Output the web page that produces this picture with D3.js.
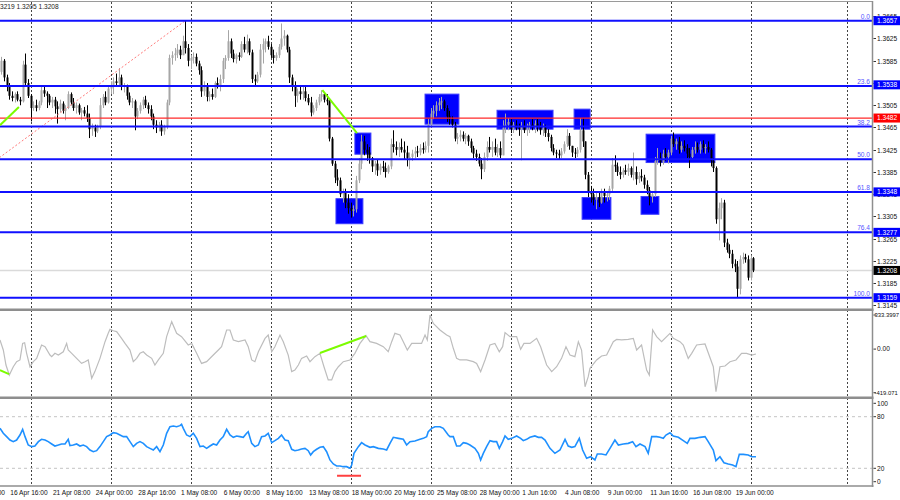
<!DOCTYPE html>
<html>
<head>
<meta charset="utf-8">
<script src="https://cdn.jsdelivr.net/npm/d3@7"></script>
<style>
  body { margin: 0; background: #fff; }
  svg { display: block; font-family: "Liberation Sans", Arial, sans-serif; }
</style>
</head>
<body>
<svg id="chart" width="900" height="500"></svg>
<script>
// H4 candles, prices in points above 1.3000 (585 -> 1.3585)
const base = 1.3;
const firstOpen = 565;
const high = [592,588,560,545,530,528,530,520,585,598,552,525,512,515,513,540,540,530,525,520,
  520,512,515,512,505,530,528,518,510,508,500,502,505,490,472,470,470,518,525,530,
  540,548,555,562,572,560,545,542,528,518,515,500,510,520,522,510,505,490,478,475,
  478,470,515,596,602,608,615,612,630,657,615,595,600,598,585,575,548,545,530,535,
  548,555,560,590,595,640,625,605,598,600,620,628,632,625,605,560,565,615,625,625,
  630,615,605,600,615,652,640,632,610,560,548,535,538,540,538,525,520,505,515,525,
  532,528,525,515,448,405,390,375,355,355,345,330,325,378,410,452,450,435,430,412,
  405,408,400,405,402,398,445,460,440,438,445,440,432,420,425,430,432,435,438,440,
  480,500,505,512,518,520,515,505,495,485,475,455,460,458,455,452,445,432,425,418,
  410,420,440,448,440,445,435,440,478,490,482,480,475,478,472,475,478,472,475,480,
  478,480,475,472,470,462,452,435,425,425,428,440,462,455,432,428,430,482,482,440,
  385,360,355,350,348,355,355,350,360,410,415,402,395,392,398,400,395,420,395,385,
  390,380,370,358,350,412,428,420,425,428,425,450,456,445,448,440,442,435,428,430,
  440,438,440,442,435,440,428,410,395,330,338,335,265,255,245,228,225,235,240,238,
  235,235,232];
const low = [560,548,530,515,512,510,512,505,510,538,518,476,495,494,496,505,520,500,505,500,
  490,472,492,490,478,498,505,495,490,488,478,485,475,446,450,448,455,462,500,505,
  508,525,525,538,540,532,528,515,505,500,460,480,490,498,500,490,478,462,455,458,
  450,452,462,505,578,585,590,588,595,598,575,570,580,575,560,520,522,512,512,515,
  518,535,530,545,570,585,590,582,580,585,590,600,598,595,545,540,545,555,580,600,
  605,590,580,585,590,605,612,600,545,530,502,510,515,515,512,505,485,488,495,505,
  512,510,505,440,396,365,360,340,330,320,310,303,305,312,365,390,415,405,400,385,
  380,378,380,385,375,382,390,420,415,412,420,408,395,390,405,410,412,415,418,420,
  420,465,480,485,495,498,495,475,470,465,440,435,440,440,435,432,420,410,405,395,
  372,385,405,420,412,415,412,410,415,455,460,455,455,460,450,406,455,450,455,460,
  455,458,452,450,448,440,422,415,410,408,410,418,430,425,412,410,412,420,430,372,
  340,330,325,318,322,328,330,332,335,350,385,378,372,375,380,378,375,370,362,365,
  368,355,345,325,330,340,398,395,398,405,400,415,430,425,418,420,422,410,392,410,
  418,420,418,420,418,420,395,385,292,262,300,250,240,230,212,205,159,165,220,222,
  190,190,205];
const close = [585,555,538,522,518,525,515,512,578,545,522,500,505,500,510,532,526,522,510,515,
  503,498,508,495,500,525,510,500,505,492,496,490,482,462,465,458,466,505,520,510,
  535,540,548,545,555,538,540,522,510,512,485,495,505,515,505,498,485,470,465,470,
  458,466,510,590,595,598,605,595,620,608,585,590,592,580,568,530,540,520,525,520,
  545,540,552,585,590,620,598,588,595,592,615,605,620,600,552,548,560,605,615,620,
  610,595,590,595,610,625,630,605,555,540,522,530,525,530,518,510,492,500,510,520,
  525,515,512,445,400,375,370,345,350,330,320,315,318,370,400,440,425,420,410,395,
  400,388,395,392,385,395,435,430,425,430,425,420,410,412,418,422,420,428,425,432,
  470,490,495,505,510,512,500,485,480,470,445,448,452,445,450,440,428,418,412,400,
  390,412,430,425,430,420,428,415,465,470,475,462,470,465,462,468,460,468,470,465,
  472,468,460,465,455,448,428,420,418,415,422,435,450,432,420,418,425,460,440,380,
  350,345,335,340,330,348,342,345,355,398,395,385,380,388,385,392,380,385,372,378,
  375,362,352,340,345,405,410,402,418,412,420,445,435,440,425,432,428,418,412,425,
  430,425,435,428,430,425,405,392,300,320,330,258,245,238,220,215,175,228,232,228,
  195,230,208];

// CCI [bar, value]
const cci = [[-0.5,80],[0.75,-8],[1.75,-139],[3,-227],[4.5,-154],[5.75,-110],[7,-95],[8,50],[8.75,56],
  [9.5,-37],[10.75,-154],[12,-110],[13.25,-81],[15.1,36],[16.4,21],[18.25,-52],[18.9,-66],[20.1,-37],
  [21.4,-52],[23.25,-23],[24.5,50],[25.1,-8],[26.4,-37],[28.25,-81],[30.1,-125],[31.4,-110],[32.6,-95],
  [33.9,-256],[35.1,-197],[37,-81],[38.9,65],[40.1,138],[40.75,173],[42,161],[43.25,153],[45.1,94],
  [46.4,50],[48.25,-8],[49.5,-110],[50.75,-81],[52,-37],[53.25,-23],[54.5,-52],[56.4,-81],[57.6,-139],
  [58.9,-95],[60.75,-37],[62,109],[63.9,240],[65.75,138],[67.6,109],[70.1,36],[71.4,50],[73.25,-37],
  [75.1,-125],[77,-110],[79.5,-52],[81.4,-8],[82.6,21],[84.5,167],[85.75,167],[87,80],[88.9,65],
  [91.4,80],[92.6,21],[93.9,-95],[95.1,-110],[96.4,-23],[98.9,94],[100.1,123],[101.4,-23],[102.6,21],
  [104.5,123],[105.75,65],[107.6,-52],[108.9,-197],[110.1,-183],[111.4,-139],[112.6,-81],[114.5,-60],
  [115.75,-110],[117.6,-66],[119.5,-37],[121,-154],[122.6,-270],[123.9,-270],[125.1,-197],[126.4,-154],
  [128.25,-110],[130.75,-95],[132.6,-37],[134.5,50],[136.75,118],[138.25,65],[140.75,50],[143.25,21],
  [145.1,-23],[146.4,65],[147.6,138],[149.5,123],[150.75,65],[152.25,-8],[153.9,50],[156.4,50],
  [157.6,50],[158.9,123],[159.75,80],[160.75,298],[162,225],[164.5,167],[167,123],[168.25,109],
  [169.5,7],[170.75,-81],[172,-95],[174.5,-95],[177,-110],[178.25,-125],[179.75,-197],[181.4,-95],
  [183.25,36],[185.1,50],[186.75,-23],[188,21],[188.9,144],[190.75,109],[193.25,109],[194.75,-2],
  [196,50],[198.25,50],[200.75,94],[202.25,21],[204.5,-139],[206.4,-197],[208.25,-154],[210.1,-81],
  [211.75,21],[213.25,-52],[215.1,-66],[216.4,65],[217.6,-8],[218.9,-329],[220.1,-241],[220.75,-168],
  [223.25,-95],[225.1,-60],[227,-52],[229.5,65],[230.75,85],[232.6,80],[235.1,85],[237,94],[238.25,-8],
  [240.1,36],[242,-183],[243,-227],[244.25,167],[245.75,109],[247.6,65],[250.75,138],[252,94],
  [254.5,65],[255.75,36],[257.6,-81],[258.9,-37],[260.75,36],[263.9,45],[267,-154],[268,-372],
  [269.5,-154],[271.4,-148],[273.25,-110],[275.5,-95],[277.6,-37],[279.5,-37],[281.4,-52],[283,-43]];

// RSI [bar, value]
const rsi = [[-0.5,66.5],[0.75,60.7],[2,56.8],[3.25,52.9],[4.5,51],[5.75,52.9],[7,58.7],[8,65.3],[8.9,56.8],
  [10.1,47.1],[11.4,45.2],[12.6,45.9],[13.9,51],[15.1,53.7],[16.4,52.9],[17.6,51],[18.9,48.3],[20.1,45.9],
  [21.4,47.1],[22.6,48.3],[23.9,48.3],[25.1,53.7],[25.75,46.3],[27,47.1],[28.25,48.3],[29.5,45.9],
  [30.75,47.1],[32,45.2],[33.25,41.3],[34.5,39.3],[35.75,40.5],[37,45.2],[38.25,51],[39.5,56.8],
  [40.75,58.7],[42,61.4],[43.25,60.7],[44.5,58.7],[45.75,56.8],[47,56.8],[48.25,51],[49.5,45.2],
  [50.75,49],[52,51],[53.25,49],[54.5,45.2],[55.75,43.2],[57,41.3],[58.25,45.2],[59.5,39.3],[60.75,47.1],
  [62,60.7],[63.25,68.4],[64.5,69.2],[65.75,68.4],[67,69.6],[67.6,71.1],[68.25,66.5],[69.5,58.7],
  [70.75,56.8],[72,60.7],[73.25,54.8],[74.5,45.2],[75.75,45.9],[77,43.2],[78.25,45.9],[79.5,48.3],
  [80.75,47.1],[82,52.9],[83.25,56.8],[84.5,65.3],[85.75,58.7],[87,56],[88.25,57.6],[89.5,56.8],
  [90.75,56],[92,60.7],[92.6,62.6],[93.9,49],[95.1,45.2],[96.4,47.1],[97.6,56.8],[98.9,57.6],[100.1,60.7],
  [101.4,49.8],[102.6,52.1],[103.9,54.8],[105.1,58.7],[106.4,52.9],[107.6,52.1],[108.9,42.1],[110.1,40.5],
  [111.4,41.3],[112.6,42.4],[113.9,43.2],[115.1,40.5],[116,35.5],[117,39.3],[118.25,42.1],[119.5,44.4],
  [120.75,45.2],[122,39.3],[123.25,29.7],[124.5,25],[125.75,22.7],[127,22.7],[128.25,21.9],[129.5,21.9],
  [130.75,20],[131.4,23.8],[132.25,37.4],[133.9,45.2],[135.1,49.8],[136.4,47.1],[138.25,44.4],[139.5,45.2],
  [141.4,43.2],[143.25,42.4],[144.5,41.3],[145.75,49],[147,56],[148.9,54.8],[150.75,53.7],[152,47.1],
  [153.25,51],[155.1,51.7],[157,53.7],[158.25,54.8],[159.5,56.8],[160.1,62.6],[161.4,66.5],[162.6,68.4],
  [164.5,68.4],[165.75,66.5],[167.6,58.7],[168.25,56.8],[169.5,56.8],[170.75,45.9],[172,45.9],[173.25,49.8],
  [174.5,49],[175.75,47.1],[177.6,43.2],[178.9,37.4],[179.75,29.7],[180.75,37.4],[182,45.2],[183.25,52.1],
  [184.5,51],[185.75,51],[186.75,43.2],[188,51],[188.9,57.6],[190.1,53.7],[191.4,54.8],[193.25,57.6],
  [194.75,54.8],[195.75,52.1],[197,53.7],[198.25,56],[200.1,57.6],[201.4,56],[202.6,56],[203.9,52.9],
  [205.75,43.2],[207.6,37.4],[209.5,41.3],[211.4,53.7],[212.6,45.9],[213.9,44.4],[215.1,45.2],[216.75,54.8],
  [218,41.3],[219.5,31.6],[221,33.5],[222.6,29.7],[223.5,36.6],[225.1,36.6],[226.75,35.5],[228.25,43.2],
  [230.1,52.9],[231.4,47.1],[233.25,48.3],[235.1,49],[236.75,51],[238,45.2],[239.5,48.3],[241.4,45.2],
  [242.6,37.4],[243.9,56.8],[245.75,56.8],[247,56],[248.25,54.8],[249.25,58.7],[250.75,61.4],[252,57.6],
  [253.9,56],[255.75,52.1],[257.25,49],[258.25,54.8],[260.1,54.8],[262,56],[263.9,56.8],[265.1,51],
  [267,41.3],[268,28.9],[269.5,33.5],[271,26.5],[272.6,25],[274.25,23.8],[275.5,21.9],[276.75,36.2],
  [278.25,36.2],[280.1,35.5],[281.4,33.5],[283,33.5]];

// fibonacci retracement from 1.3159 up to 1.3657
const fibLow = 1.3159, fibHigh = 1.3657;
const fibLevels = [0, 23.6, 38.2, 50.0, 61.8, 76.4, 100.0];
const fibAnchor = [[-72, 1.3159], [69, 1.3657]];
const resistance = 1.3482;
const lastPrice = 1.3208;

// marked zones: [fromBar, toBar, top, bottom]
const zones = [
  [125.5, 135.6, 1.3337, 1.3292],
  [132.6, 138.6, 1.3455, 1.3417],
  [158.9, 171.6, 1.3525, 1.3471],
  [185.9, 206.9, 1.3496, 1.3462],
  [214.8, 220.8, 1.3498, 1.3462],
  [217.8, 228.6, 1.3339, 1.3300],
  [239.9, 246.6, 1.3341, 1.3309],
  [241.8, 267.6, 1.3453, 1.3402]
];
const priceLines = [[[-0.5, 1.3469], [6.6, 1.3502]], [[120.4, 1.3532], [133.4, 1.3455]]];
const cciLines = [[[-0.5, -184], [2.9, -219]], [[119.5, -34], [136.8, 115]]];
const rsiMark = [[125.9, 11.4], [134.9, 11.4]];

const priceTicks = [1.3145, 1.3185, 1.3225, 1.3265, 1.3305, 1.3345, 1.3385, 1.3425,
  1.3465, 1.3505, 1.3545, 1.3585, 1.3625, 1.3665];
const priceTags = [
  { v: 1.3657, t: "1.3657", c: "#0000ff" },
  { v: 1.35417, t: "1.3538", c: "#0000ff" },
  { v: 1.3482, t: "1.3482", c: "#ff0000" },
  { v: 1.33492, t: "1.3348", c: "#0000ff" },
  { v: 1.32765, t: "1.3277", c: "#0000ff" },
  { v: 1.3208, t: "1.3208", c: "#000000" },
  { v: 1.3159, t: "1.3159", c: "#0000ff" }
];
const dateLabels = ["14 Apr 00:00", "16 Apr 16:00", "21 Apr 08:00", "24 Apr 00:00", "28 Apr 16:00",
  "1 May 08:00", "6 May 00:00", "8 May 16:00", "13 May 08:00", "18 May 00:00", "20 May 16:00",
  "25 May 08:00", "28 May 00:00", "1 Jun 16:00", "4 Jun 08:00", "9 Jun 00:00", "11 Jun 16:00",
  "16 Jun 08:00", "19 Jun 00:00"];
const firstLabelBar = -13, labelStep = 16;
const gridBars = [11, 41, 71, 101, 131, 161, 191, 221, 251, 281, 317];

const svg = d3.select("#chart");
const axisX = 872.5;
const fs = "6.6px";

const x = d3.scaleLinear().domain([0, close.length - 1]).range([1.3, 753.3]);
const y = d3.scaleLinear().domain([fibLow, fibHigh]).range([297.7, 20.7]);
const yCci = d3.scaleLinear().domain([-419.071, 333.3997]).range([397, 311]);
const yRsi = d3.scaleLinear().domain([0, 100]).range([485.5, 399.5]);
const px = p => base + p / 10000;

const defs = svg.append("defs");
[["clipMain", 2, 307], ["clipCci", 311, 86], ["clipRsi", 399.5, 86]].forEach(([id, top, h]) => {
  defs.append("clipPath").attr("id", id).append("rect")
    .attr("x", 0).attr("y", top).attr("width", axisX).attr("height", h);
});

// vertical grid
svg.append("g").selectAll("line").data(gridBars).join("line")
  .attr("x1", d => Math.round(x(d)) + 0.5).attr("x2", d => Math.round(x(d)) + 0.5)
  .attr("y1", 2).attr("y2", 486)
  .attr("stroke", "#444").attr("stroke-width", 1).attr("stroke-dasharray", "2,2");

const main = svg.append("g").attr("clip-path", "url(#clipMain)");

main.append("g").selectAll("rect").data(zones).join("rect")
  .attr("x", d => x(d[0])).attr("width", d => x(d[1]) - x(d[0]))
  .attr("y", d => y(d[2])).attr("height", d => y(d[3]) - y(d[2]))
  .attr("fill", "#0000ff").attr("stroke", "#3c3cff").attr("stroke-width", 1);

// current price line
main.append("line").attr("x1", 0).attr("x2", axisX)
  .attr("y1", y(lastPrice)).attr("y2", y(lastPrice))
  .attr("stroke", "#dadada").attr("stroke-width", 1.5);

// candles
const bars = close.map((c, i) => ({ i, o: i ? close[i - 1] : firstOpen, h: high[i], l: low[i], c }));
const cg = main.append("g");
cg.selectAll("line").data(bars).join("line")
  .attr("x1", d => Math.round(x(d.i)) + 0.5).attr("x2", d => Math.round(x(d.i)) + 0.5)
  .attr("y1", d => y(px(d.h))).attr("y2", d => y(px(d.l)))
  .attr("stroke", d => d.c >= d.o ? "#a6a6a6" : "#000").attr("stroke-width", 1);
cg.selectAll("rect").data(bars).join("rect")
  .attr("x", d => Math.round(x(d.i)) - 0.5).attr("width", 2)
  .attr("y", d => y(px(Math.max(d.o, d.c))))
  .attr("height", d => Math.max(1, Math.abs(y(px(d.o)) - y(px(d.c)))))
  .attr("fill", d => d.c >= d.o ? "#a6a6a6" : "#000");

// fibonacci
const fibPrice = lv => fibHigh - lv / 100 * (fibHigh - fibLow);
main.append("line")
  .attr("x1", x(fibAnchor[0][0])).attr("y1", y(fibAnchor[0][1]))
  .attr("x2", x(fibAnchor[1][0])).attr("y2", y(fibAnchor[1][1]))
  .attr("stroke", "#ff7a7a").attr("stroke-dasharray", "2,2");
main.append("g").selectAll("line").data(fibLevels).join("line")
  .attr("x1", 0).attr("x2", axisX)
  .attr("y1", d => y(fibPrice(d))).attr("y2", d => y(fibPrice(d)))
  .attr("stroke", "#1010ff").attr("stroke-width", 2);
main.append("line").attr("x1", 0).attr("x2", axisX)
  .attr("y1", y(resistance)).attr("y2", y(resistance))
  .attr("stroke", "#ff2a2a").attr("stroke-width", 1.2);
main.append("g").selectAll("text").data(fibLevels).join("text")
  .attr("x", 870).attr("y", d => y(fibPrice(d)) - 2)
  .attr("text-anchor", "end").attr("font-size", fs).attr("fill", "#5555ff")
  .text(d => d.toFixed(1));

main.append("g").selectAll("line").data(priceLines).join("line")
  .attr("x1", d => x(d[0][0])).attr("y1", d => y(d[0][1]))
  .attr("x2", d => x(d[1][0])).attr("y2", d => y(d[1][1]))
  .attr("stroke", "#7cfc00").attr("stroke-width", 2);

svg.append("text").attr("x", 0).attr("y", 9).attr("font-size", fs).attr("fill", "#222")
  .text("3219 1.3205 1.3208");

// CCI panel
const cciG = svg.append("g").attr("clip-path", "url(#clipCci)");
cciG.append("path").datum(cci)
  .attr("d", d3.line().x(d => x(d[0])).y(d => yCci(d[1])))
  .attr("fill", "none").attr("stroke", "#bdbdbd").attr("stroke-width", 1.2);
cciG.append("g").selectAll("line").data(cciLines).join("line")
  .attr("x1", d => x(d[0][0])).attr("y1", d => yCci(d[0][1]))
  .attr("x2", d => x(d[1][0])).attr("y2", d => yCci(d[1][1]))
  .attr("stroke", "#7cfc00").attr("stroke-width", 2);

// RSI panel
const rsiG = svg.append("g").attr("clip-path", "url(#clipRsi)");
rsiG.append("g").selectAll("line").data([80, 20]).join("line")
  .attr("x1", 0).attr("x2", axisX).attr("y1", d => yRsi(d)).attr("y2", d => yRsi(d))
  .attr("stroke", "#c4c4c4").attr("stroke-dasharray", "3,3");
rsiG.append("path").datum(rsi)
  .attr("d", d3.line().x(d => x(d[0])).y(d => yRsi(d[1])))
  .attr("fill", "none").attr("stroke", "#1e90ff").attr("stroke-width", 1.6);
rsiG.append("line")
  .attr("x1", x(rsiMark[0][0])).attr("x2", x(rsiMark[1][0]))
  .attr("y1", yRsi(rsiMark[0][1])).attr("y2", yRsi(rsiMark[1][1]))
  .attr("stroke", "#ff4040").attr("stroke-width", 2);

// frames
svg.append("line").attr("x1", 0).attr("x2", axisX).attr("y1", 1.5).attr("y2", 1.5)
  .attr("stroke", "#9a9a9a");
[309.7, 397.8].forEach(v => svg.append("line").attr("x1", 0).attr("x2", axisX + 1)
  .attr("y1", v).attr("y2", v).attr("stroke", "#8e8e8e").attr("stroke-width", 2.5));
svg.append("line").attr("x1", 0).attr("x2", axisX + 1).attr("y1", 486).attr("y2", 486)
  .attr("stroke", "#8e8e8e").attr("stroke-width", 1.5);
svg.append("line").attr("x1", axisX).attr("x2", axisX).attr("y1", 1).attr("y2", 487)
  .attr("stroke", "#8e8e8e").attr("stroke-width", 1.5);

// right axis
const rightLabel = (yy, t, size) => {
  svg.append("line").attr("x1", axisX + 1).attr("x2", axisX + 3.5).attr("y1", yy).attr("y2", yy)
    .attr("stroke", "#333");
  svg.append("text").attr("x", size ? 874.5 : 877).attr("y", yy).attr("dy", "0.35em")
    .attr("font-size", size || fs).attr("fill", "#111").text(t);
};
priceTicks.forEach(v => rightLabel(Math.round(y(v)) + 0.5, v.toFixed(4)));
priceTags.forEach(d => {
  const yy = y(d.v);
  svg.append("rect").attr("x", axisX + 1).attr("y", yy - 4.5).attr("width", 27).attr("height", 9)
    .attr("fill", d.c);
  svg.append("text").attr("x", 877).attr("y", yy).attr("dy", "0.35em")
    .attr("font-size", fs).attr("fill", "#fff").text(d.t);
});
rightLabel(yCci(333.3997) + 4, "333.3997", "5.9px");
rightLabel(yCci(0), "0.00");
rightLabel(yCci(-419.071) - 4.3, "-419.071", "5.9px");
rightLabel(yRsi(100) + 3.8, "100");
rightLabel(yRsi(80), "80");
rightLabel(yRsi(20), "20");
rightLabel(yRsi(0) - 3.8, "0");

// time axis
svg.append("g").selectAll("text").data(dateLabels).join("text")
  .attr("x", (d, k) => x(firstLabelBar + k * labelStep) + 1)
  .attr("y", 493).attr("dy", "0.35em")
  .attr("font-size", fs).attr("fill", "#111").text(d => d);
</script>
</body>
</html>
